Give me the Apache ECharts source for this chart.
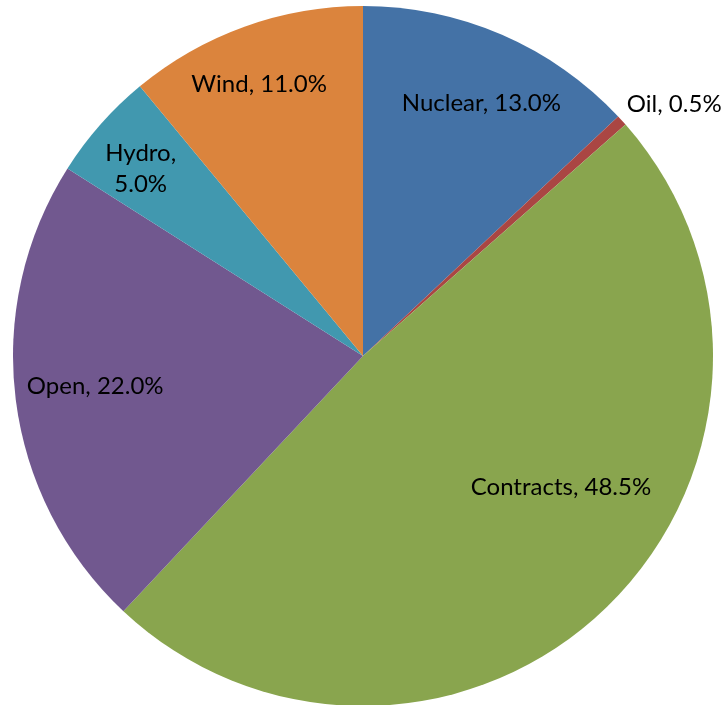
<!DOCTYPE html>
<html>
<head>
<meta charset="utf-8">
<script src="https://cdn.jsdelivr.net/npm/echarts@6/dist/echarts.min.js"></script>
<style>
  html, body { margin: 0; padding: 0; background: #fff; }
  #chart { width: 723px; height: 705px; }
</style>
</head>
<body>
<div id="chart"></div>
<script>
// Energy supply mix, percentages (clockwise from 12 o'clock)
const categories = ['Nuclear', 'Oil', 'Contracts', 'Open', 'Hydro', 'Wind'];
const shares = [13.0, 0.5, 48.5, 22.0, 5.0, 11.0];
const sliceColors = ['#4472A6', '#AA4643', '#89A54E', '#71588F', '#4198AF', '#DB843D'];

// Small nudges applied to label placement
const labelNudge = {
  Nuclear: [6, 7],
  Wind: [-8, -5],
  Hydro: [-10, 0],
  Open: [13, -5],
  Contracts: [1, -72],
  Oil: [0, -16]
};

const CENTER = [363, 356];
const R = 350;

const font = { fontFamily: 'Lato', fontSize: 24, color: '#000', lineHeight: 31 };

function fmt(p) {
  const v = p.value.toFixed(1) + '%';
  return p.name === 'Hydro' ? p.name + ',\n' + v : p.name + ', ' + v;
}

function nudge(params) {
  const n = labelNudge[categories[params.dataIndex]];
  return n ? { dx: n[0], dy: n[1] } : {};
}

const data = categories.map((name, i) => ({ name, value: shares[i] }));

const chart = echarts.init(document.getElementById('chart'), null, { renderer: 'canvas' });
chart.setOption({
  backgroundColor: '#ffffff',
  animation: false,
  series: [
    {
      // the visible pie; only the thin slice gets an outside label
      type: 'pie',
      center: CENTER,
      radius: [0, R],
      startAngle: 90,
      clockwise: true,
      avoidLabelOverlap: false,
      silent: true,
      data: data.map((d, i) => ({
        name: d.name,
        value: d.value,
        itemStyle: { color: sliceColors[i] },
        label: { show: d.name === 'Oil' }
      })),
      itemStyle: { borderWidth: 0 },
      label: Object.assign({
        position: 'outside',
        distanceToLabelLine: 5,
        formatter: fmt
      }, font),
      labelLine: { show: false, length: 0, length2: 0 },
      labelLayout: nudge
    },
    {
      // transparent companion pie: its 'inside' labels sit at 0.8 of the visible radius
      type: 'pie',
      center: CENTER,
      radius: [0, R * 1.6],
      startAngle: 90,
      clockwise: true,
      avoidLabelOverlap: false,
      silent: true,
      z: 3,
      itemStyle: { color: 'rgba(0,0,0,0)', borderWidth: 0 },
      data: data.map(d => ({
        name: d.name,
        value: d.value,
        label: { show: d.name !== 'Oil' }
      })),
      label: Object.assign({
        position: 'inside',
        formatter: fmt
      }, font),
      labelLine: { show: false },
      labelLayout: nudge
    }
  ]
});
</script>
</body>
</html>
